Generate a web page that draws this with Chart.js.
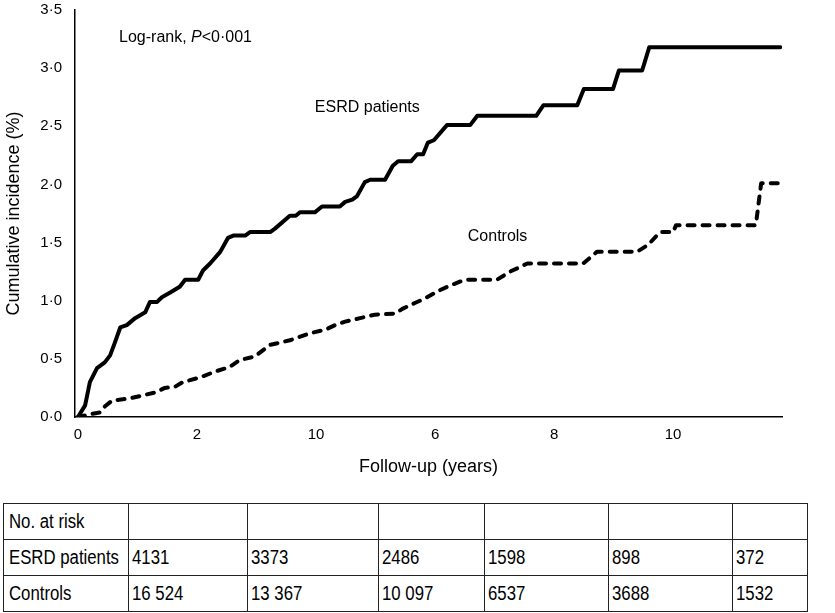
<!DOCTYPE html>
<html>
<head>
<meta charset="utf-8">
<script src="https://cdn.jsdelivr.net/npm/chart.js@4.4.0/dist/chart.umd.min.js"></script>
<style>
  html, body { margin: 0; padding: 0; background: #fff; }
  #wrap { position: relative; width: 835px; height: 613px; overflow: hidden; }
  #chart { position: absolute; left: 0; top: 0; }
  table.risk {
    position: absolute; left: 3px; top: 503px; width: 804px;
    border-collapse: collapse; table-layout: fixed;
    font-family: 'Liberation Sans', Arial, Helvetica, sans-serif;
    font-size: 19.5px; color: #000;
  }
  table.risk td {
    border: 1.5px solid #222; padding: 0 0 0 3px; height: 35px;
    white-space: nowrap; overflow: hidden; vertical-align: middle;
  }
  table.risk td.first { padding-left: 5px; }
  table.risk td span { display: inline-block; transform: scaleX(0.86); transform-origin: left center; }
</style>
</head>
<body>
<div id="wrap">
  <canvas id="chart" width="835" height="490"></canvas>
  <table class="risk" id="risk"></table>
</div>
<script>
// ---- Data ----
const esrdX = [0,0.12,0.20,0.32,0.45,0.54,0.62,0.71,0.82,0.96,1.13,1.21,1.33,1.41,1.55,1.71,1.80,2.02,2.10,2.22,2.39,2.52,2.61,2.81,2.89,3.23,3.31,3.56,3.66,3.73,3.98,4.10,4.40,4.49,4.61,4.69,4.82,4.91,5.16,5.29,5.38,5.60,5.70,5.80,5.88,5.98,6.20,6.59,6.71,7.70,7.82,8.39,8.50,8.99,9.09,9.48,9.60,11.80];
const esrdY = [0,0.10,0.30,0.42,0.47,0.53,0.64,0.77,0.79,0.85,0.90,0.99,0.99,1.03,1.07,1.12,1.18,1.18,1.26,1.32,1.42,1.54,1.56,1.56,1.59,1.59,1.62,1.73,1.73,1.76,1.76,1.81,1.81,1.85,1.87,1.90,2.02,2.04,2.04,2.16,2.20,2.20,2.26,2.26,2.36,2.38,2.51,2.51,2.59,2.59,2.68,2.68,2.82,2.82,2.98,2.98,3.18,3.18];
const ctrlX = [0,0.17,0.37,0.45,0.57,0.87,1.04,1.29,1.46,1.63,1.76,2.05,2.30,2.55,2.72,2.97,3.23,3.56,3.90,4.15,4.32,4.49,4.74,4.99,5.33,5.45,5.66,5.83,6.08,6.25,6.50,7.04,7.26,7.55,8.49,8.72,9.39,9.58,9.78,10.00,10.05,11.39,11.48,11.80];
const ctrlY = [0,0.02,0.04,0.09,0.14,0.16,0.18,0.21,0.25,0.26,0.30,0.34,0.39,0.43,0.49,0.52,0.62,0.66,0.72,0.75,0.79,0.82,0.85,0.88,0.89,0.93,0.98,1.02,1.09,1.13,1.18,1.18,1.25,1.32,1.32,1.42,1.42,1.48,1.59,1.59,1.65,1.65,2.01,2.01];

const xTickValues = [0, 2, 4, 6, 8, 10];
const xTickLabels = ['0', '2', '10', '6', '8', '10'];
const yTickValues = [0, 0.5, 1, 1.5, 2, 2.5, 3, 3.5];

const seriesNames = ['ESRD patients', 'Controls'];
const riskHeader = 'No. at risk';
const riskESRD = ['4131', '3373', '2486', '1598', '898', '372'];
const riskControls = ['16 524', '13 367', '10 097', '6537', '3688', '1532'];

const annotations = [
  { x: 0.69, y: 3.225, parts: [['Log-rank, ', 'normal'], ['P', 'italic'], ['<0·001', 'normal']] },
  { x: 3.98, y: 2.625, parts: [['ESRD patients', 'normal']] },
  { x: 6.55, y: 1.515, parts: [['Controls', 'normal']] }
];

// ---- Table ----
const colWidths = [125, 119, 131, 106, 124, 124, 75];
(function buildTable() {
  const t = document.getElementById('risk');
  const cg = document.createElement('colgroup');
  colWidths.forEach(w => { const c = document.createElement('col'); c.style.width = w + 'px'; cg.appendChild(c); });
  t.appendChild(cg);
  const rows = [
    [riskHeader, '', '', '', '', '', ''],
    [seriesNames[0]].concat(riskESRD),
    [seriesNames[1]].concat(riskControls)
  ];
  rows.forEach(r => {
    const tr = document.createElement('tr');
    r.forEach((txt, i) => {
      const td = document.createElement('td');
      if (i === 0) td.className = 'first';
      const sp = document.createElement('span');
      sp.textContent = txt;
      td.appendChild(sp);
      tr.appendChild(td);
    });
    t.appendChild(tr);
  });
})();

// ---- Chart ----
const FONT = "'Liberation Sans', Arial, Helvetica, sans-serif";
const toPts = (xs, ys) => xs.map((x, i) => ({ x: x, y: ys[i] }));

const annotationPlugin = {
  id: 'textNotes',
  afterDatasetsDraw(chart) {
    const ctx = chart.ctx;
    const xs = chart.scales.x, ys = chart.scales.y;
    ctx.save();
    ctx.fillStyle = '#000';
    ctx.textBaseline = 'alphabetic';
    ctx.textAlign = 'left';
    annotations.forEach(a => {
      let px = xs.getPixelForValue(a.x);
      const py = ys.getPixelForValue(a.y);
      a.parts.forEach(([txt, style]) => {
        ctx.font = (style === 'italic' ? 'italic ' : '') + '16px ' + FONT;
        ctx.fillText(txt, px, py);
        px += ctx.measureText(txt).width;
      });
    });
    ctx.restore();
  }
};

new Chart(document.getElementById('chart'), {
  type: 'line',
  data: {
    datasets: [
      {
        label: seriesNames[0],
        data: toPts(esrdX, esrdY),
        borderColor: '#000', borderWidth: 4, pointRadius: 0,
        tension: 0, borderJoinStyle: 'round', borderCapStyle: 'round', fill: false
      },
      {
        label: seriesNames[1],
        data: toPts(ctrlX, ctrlY),
        borderColor: '#000', borderWidth: 4, pointRadius: 0,
        borderDash: [7, 8], borderCapStyle: 'round', borderJoinStyle: 'round',
        tension: 0, fill: false
      }
    ]
  },
  options: {
    responsive: false,
    animation: false,
    devicePixelRatio: 1,
    layout: { padding: { top: 10, right: 53, bottom: 0, left: 0 } },
    plugins: { legend: { display: false }, tooltip: { enabled: false } },
    scales: {
      x: {
        type: 'linear', min: -0.05, max: 11.83,
        grid: { display: false, drawTicks: false },
        border: { display: true, color: '#000', width: 1.5 },
        afterBuildTicks: s => { s.ticks = xTickValues.map(v => ({ value: v })); },
        ticks: {
          color: '#000', padding: 9, maxRotation: 0, autoSkip: false,
          font: { family: FONT, size: 15 },
          callback: (v) => { const i = xTickValues.indexOf(v); return i >= 0 ? xTickLabels[i] : ''; }
        },
        title: {
          display: true, text: 'Follow-up (years)', color: '#000',
          font: { family: FONT, size: 18 }, padding: { top: 0, bottom: 12 }
        },
        afterFit: s => { s.height = 73; s.paddingLeft = 0; s.paddingRight = 0; }
      },
      y: {
        type: 'linear', min: 0, max: 3.5,
        grid: { display: false, drawTicks: false },
        border: { display: true, color: '#000', width: 1.5 },
        afterBuildTicks: s => { s.ticks = yTickValues.map(v => ({ value: v })); },
        ticks: {
          color: '#000', padding: 13, autoSkip: false,
          font: { family: FONT, size: 15 },
          callback: v => Number(v).toFixed(1).replace('.', '·')
        },
        title: {
          display: true, text: 'Cumulative incidence (%)', color: '#000',
          font: { family: FONT, size: 18 }, padding: { top: 3, bottom: 0 }
        },
        afterFit: s => { s.width = 75; s.paddingTop = 0; s.paddingBottom = 0; }
      }
    }
  },
  plugins: [annotationPlugin]
});
</script>
</body>
</html>
